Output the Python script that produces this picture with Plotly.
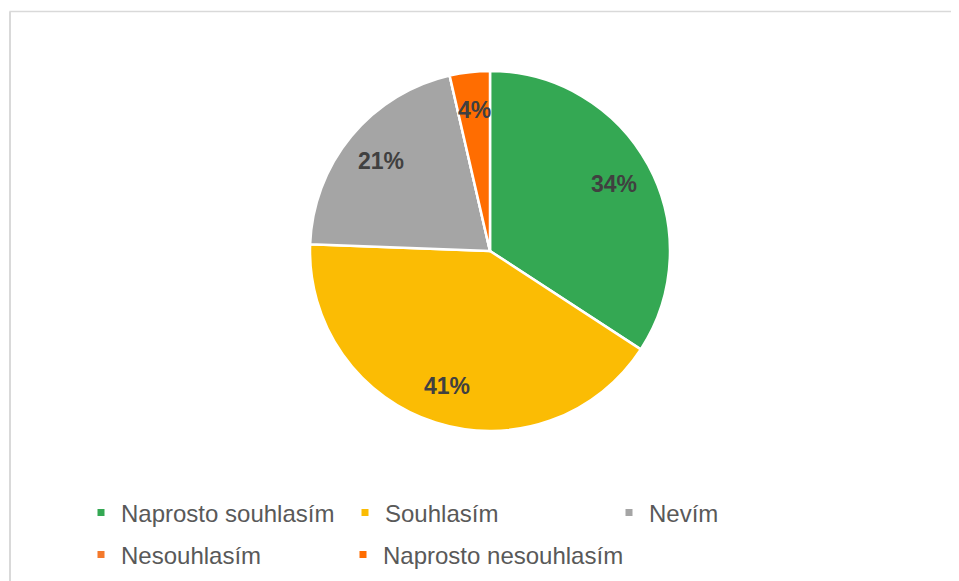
import math
import plotly.graph_objects as go

categories = ["Naprosto souhlasím", "Souhlasím", "Nevím", "Nesouhlasím", "Naprosto nesouhlasím"]
values = [34.2, 41.4, 20.8, 0, 3.6]
labels_text = ["34%", "41%", "21%", "", "4%"]
colors = ["#34A853", "#FBBC04", "#A5A5A5", "#F4792B", "#FF6D01"]

W, H = 959, 581
OFF = 8  # page offset of the plot div
cx, cy, r = 490 - OFF, 251 - OFF, 179
r_dom = 180

fig = go.Figure()
fig.add_trace(go.Pie(
    labels=categories,
    values=values,
    textinfo="none",
    sort=False,
    direction="clockwise",
    rotation=0,
    showlegend=False,
    marker=dict(colors=colors, line=dict(color="white", width=2.5)),
    domain=dict(x=[(cx - r_dom) / W, (cx + r_dom) / W],
                y=[1 - (cy + r_dom) / H, 1 - (cy - r_dom) / H]),
    hoverinfo="label+percent",
))

# data labels, placed along each slice's mid-angle
total = sum(values)
cum = 0
annotations = []
for v, t in zip(values, labels_text):
    mid = (cum + v / 2) / total * 2 * math.pi
    cum += v
    if not t:
        continue
    d = 0.79 * r
    px = cx + d * math.sin(mid)
    py = cy - d * math.cos(mid)
    annotations.append(dict(
        x=px / W, y=1 - py / H, xref="paper", yref="paper",
        text=t, showarrow=False, xanchor="center", yanchor="middle",
        font=dict(family="Liberation Sans, Arial", size=23, color="#404040", weight="bold"),
    ))

# legend entries: (legend id, x position in px, row centre y in px)
legend_slots = [("legend", 73, 505), ("legend", 73, 505), ("legend", 73, 505),
                ("legend2", 73, 547), ("legend3", 335, 547)]
for i, (lg, _, _) in enumerate(legend_slots):
    fig.add_trace(go.Scatter(
        x=[None], y=[None], mode="markers", name=categories[i],
        marker=dict(symbol="square", size=7, color=colors[i]),
        legend=lg, showlegend=True, hoverinfo="skip",
    ))

def leg(x, y, entrywidth=None):
    d = dict(
        orientation="h", xanchor="left", yanchor="middle",
        x=x / W, y=1 - y / H,
        itemsizing="trace", traceorder="normal",
        font=dict(family="Liberation Sans, Arial", size=24, color="#595959"),
        bgcolor="rgba(0,0,0,0)",
    )
    if entrywidth:
        d["entrywidth"] = entrywidth
    return d

fig.update_layout(
    width=W, height=H,
    margin=dict(l=0, r=0, t=0, b=0),
    paper_bgcolor="white",
    plot_bgcolor="white",
    xaxis=dict(visible=False),
    yaxis=dict(visible=False),
    legend=leg(73, 505, 219),
    legend2=leg(73, 547),
    legend3=leg(335, 547),
    annotations=annotations,
    shapes=[
        dict(type="line", xref="paper", yref="paper",
             x0=1.5 / W, x1=1.02, y0=1 - 3.5 / H, y1=1 - 3.5 / H,
             line=dict(color="#D9D9D9", width=1.5)),
        dict(type="line", xref="paper", yref="paper",
             x0=2 / W, x1=2 / W, y0=1 - 3.5 / H, y1=-0.02,
             line=dict(color="#D9D9D9", width=2)),
    ],
)

fig.write_html("out.html")
